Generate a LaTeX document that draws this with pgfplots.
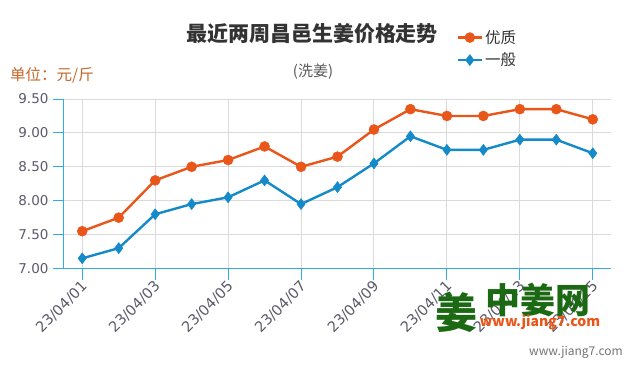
\documentclass[border=0pt]{standalone}
\usepackage{fontspec}
\setmainfont{Noto Sans CJK SC}
\newfontfamily\tickfont{DejaVu Sans}
\usepackage{pgfplots}
\pgfplotsset{compat=1.18}
\definecolor{cOrange}{RGB}{234,85,25}
\definecolor{cBlue}{RGB}{20,138,200}
\definecolor{cAxis}{RGB}{48,172,226}
\definecolor{cGrid}{RGB}{218,218,218}
\definecolor{cTick}{RGB}{90,90,105}
\definecolor{cUnit}{RGB}{196,102,40}
\definecolor{cLogo}{RGB}{28,105,20}
\begin{document}
\begin{tikzpicture}
\begin{axis}[
  at={(0pt,0pt)}, anchor=south west,
  scale only axis, width=547pt, height=169.5pt,
  xmin=0.5, xmax=15.5, ymin=7, ymax=9.5,
  axis lines=left,
  x axis line style={-, cAxis, line width=1pt},
  y axis line style={-, cAxis, line width=1pt},
  tick align=outside,
  major tick length=11pt,
  tick style={cAxis, line width=1pt},
  xtick={1,3,5,7,9,11,13,15},
  xticklabels={23/04/01,23/04/03,23/04/05,23/04/07,23/04/09,23/04/11,23/04/13,23/04/15},
  ytick={7,7.5,8,8.5,9,9.5},
  yticklabel style={/pgf/number format/fixed, /pgf/number format/fixed zerofill, /pgf/number format/precision=2},
  /pgf/number format/assume math mode=true,
  ticklabel style={font=\tickfont\fontsize{13.5}{15}\selectfont, text=cTick},
  xticklabel style={font=\tickfont\fontsize{14.5}{16}\selectfont, rotate=45, anchor=east, xshift=2pt, yshift=-5pt},
  yticklabel style={xshift=-1pt},
  grid=major,
  major grid style={cGrid, line width=1pt},
  legend style={at={(0.712,1.43)}, anchor=north west, draw=none, fill=none,
    font=\fontsize{15.5}{18}\selectfont, row sep=4pt, text=black!80,
    /tikz/every even column/.append style={column sep=2pt}},
  legend cell align=left,
  legend image code/.code={\draw[mark repeat=2,mark phase=2] plot coordinates {(0pt,0pt) (12pt,0pt) (24pt,0pt)};},
  clip=false,
]
\addplot[cOrange, line width=2.4pt, mark=*, mark size=5pt, mark options={solid, line width=0.5pt, draw=cOrange, fill=cOrange}]
 coordinates {(1,7.55)(2,7.75)(3,8.30)(4,8.50)(5,8.60)(6,8.80)(7,8.50)(8,8.65)(9,9.05)(10,9.35)(11,9.25)(12,9.25)(13,9.35)(14,9.35)(15,9.20)};
\addlegendentry{优质}
\addplot[cBlue, line width=2.4pt, mark=diamond*, mark size=5.5pt, mark options={solid, line width=0.5pt, draw=cBlue, fill=cBlue}]
 coordinates {(1,7.15)(2,7.30)(3,7.80)(4,7.95)(5,8.05)(6,8.30)(7,7.95)(8,8.20)(9,8.55)(10,8.95)(11,8.75)(12,8.75)(13,8.90)(14,8.90)(15,8.70)};
\addlegendentry{一般}
\end{axis}
\node[font=\fontsize{21}{23}\selectfont\bfseries, text=black!80] at (248pt,235.5pt) {最近两周昌邑生姜价格走势};
\node[font=\fontsize{15}{17}\selectfont, text=black!65] at (249pt,196.5pt) {(洗姜)};
\node[font=\fontsize{15.5}{17}\selectfont, text=cUnit, anchor=west, inner sep=0pt] at (-54pt,193.5pt) {单位：元/斤};
\node[font=\fontsize{42}{44}\selectfont\bfseries, text=cLogo] at (392pt,-43.5pt) {姜};
\node[font=\fontsize{35}{38}\selectfont\bfseries, text=cLogo] at (474pt,-31.5pt) {中姜网};
\node[font=\fontsize{14}{16}\selectfont\bfseries\itshape, text=cOrange] at (476pt,-53.5pt) {www.jiang7.com};
\node[font=\fontsize{12}{14}\selectfont, text=black!55] at (512pt,-83.5pt) {www.jiang7.com};
\pgfresetboundingbox
\useasboundingbox (-64pt,-106.5pt) rectangle (571pt,268.5pt);
\end{tikzpicture}
\end{document}
